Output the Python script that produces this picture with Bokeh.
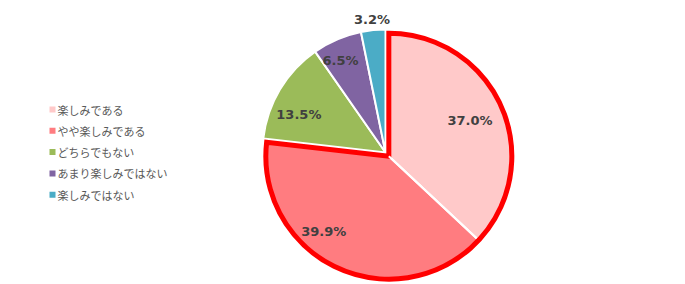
import math
from bokeh.plotting import figure
from bokeh.models import Range1d
from bokeh.core.properties import value
from bokeh.embed import file_html
from bokeh.resources import INLINE

categories = ["楽しみである", "やや楽しみである", "どちらでもない", "あまり楽しみではない", "楽しみではない"]
values = [37.0, 39.9, 13.5, 6.5, 3.2]
labels = ["37.0%", "39.9%", "13.5%", "6.5%", "3.2%"]
colors = ["#FFC9C9", "#FF7C80", "#9BBB59", "#8064A2", "#4BACC6"]
highlight = [True, True, False, False, False]
# label placement (radius fraction, angle tweak in degrees)
label_rf = [0.72, 0.81, 0.77, 0.83, 1.09]
label_dt = [0.0, 16.0, -7.0, -3.0, 0.0]

W, H = 685, 284
p = figure(width=W, height=H, output_backend="svg", toolbar_location=None,
           x_range=Range1d(0, W), y_range=Range1d(0, H), min_border=0)
p.axis.visible = False
p.grid.visible = False
p.outline_line_color = None
p.background_fill_color = "white"
p.border_fill_color = "white"

cx, cy = 385, H - 152
R = 123
explode = 5

total = sum(values)
cum = 0.0
starts, ends = [], []
for v in values:
    starts.append(cum / total)
    cum += v
    ends.append(cum / total)

def ang(f):
    return math.pi / 2 - 2 * math.pi * f

# explosion offset for highlighted group
hs = min(s for s, h in zip(starts, highlight) if h)
he = max(e for e, h in zip(ends, highlight) if h)
hm = ang((hs + he) / 2)
ex, ey = explode * math.cos(hm), explode * math.sin(hm)

xs, ys = [], []
for i in range(len(values)):
    if highlight[i]:
        xs.append(cx + ex); ys.append(cy + ey)
    else:
        xs.append(cx); ys.append(cy)

p.wedge(x=xs, y=ys, radius=R, radius_units="screen",
        start_angle=[ang(s) for s in starts], end_angle=[ang(e) for e in ends],
        direction="clock", fill_color=colors, line_color="white", line_width=2)

# red outline around highlighted group
p.wedge(x=cx + ex, y=cy + ey, radius=R, radius_units="screen",
        start_angle=ang(hs), end_angle=ang(he), direction="clock",
        fill_color=None, line_color="#FF0000", line_width=5, line_join="miter")
# white separator inside group
for i in range(len(values) - 1):
    if highlight[i] and highlight[i + 1]:
        a = ang(ends[i])
        p.segment(x0=cx + ex, y0=cy + ey, x1=cx + ex + (R - 3) * math.cos(a),
                  y1=cy + ey + (R - 3) * math.sin(a), line_color="white", line_width=2)

lx, ly = [], []
for i in range(len(values)):
    mid = (starts[i] + ends[i]) / 2
    a = ang(mid) - math.radians(label_dt[i])
    r = R * label_rf[i]
    lx.append(xs[i] + r * math.cos(a))
    ly.append(ys[i] + r * math.sin(a))
p.text(x=lx, y=ly, text=labels, text_align="center", text_baseline="middle",
       text_font=value("DejaVu Sans"), text_font_style="bold",
       text_font_size="13px", text_color="#404040")

# legend
leg_x, leg_top, leg_dy = 52, H - 109, 21.3
legy = [leg_top - i * leg_dy for i in range(len(categories))]
p.scatter(x=[leg_x] * len(categories), y=legy, marker="square", size=6,
          fill_color=colors, line_color=None)
p.text(x=[leg_x + 5] * len(categories), y=legy, text=categories,
       text_align="left", text_baseline="middle",
       text_font=value("Noto Sans CJK JP"), text_font_size="11px", text_color="#595959")

open("out.html", "w").write(file_html(p, INLINE))
